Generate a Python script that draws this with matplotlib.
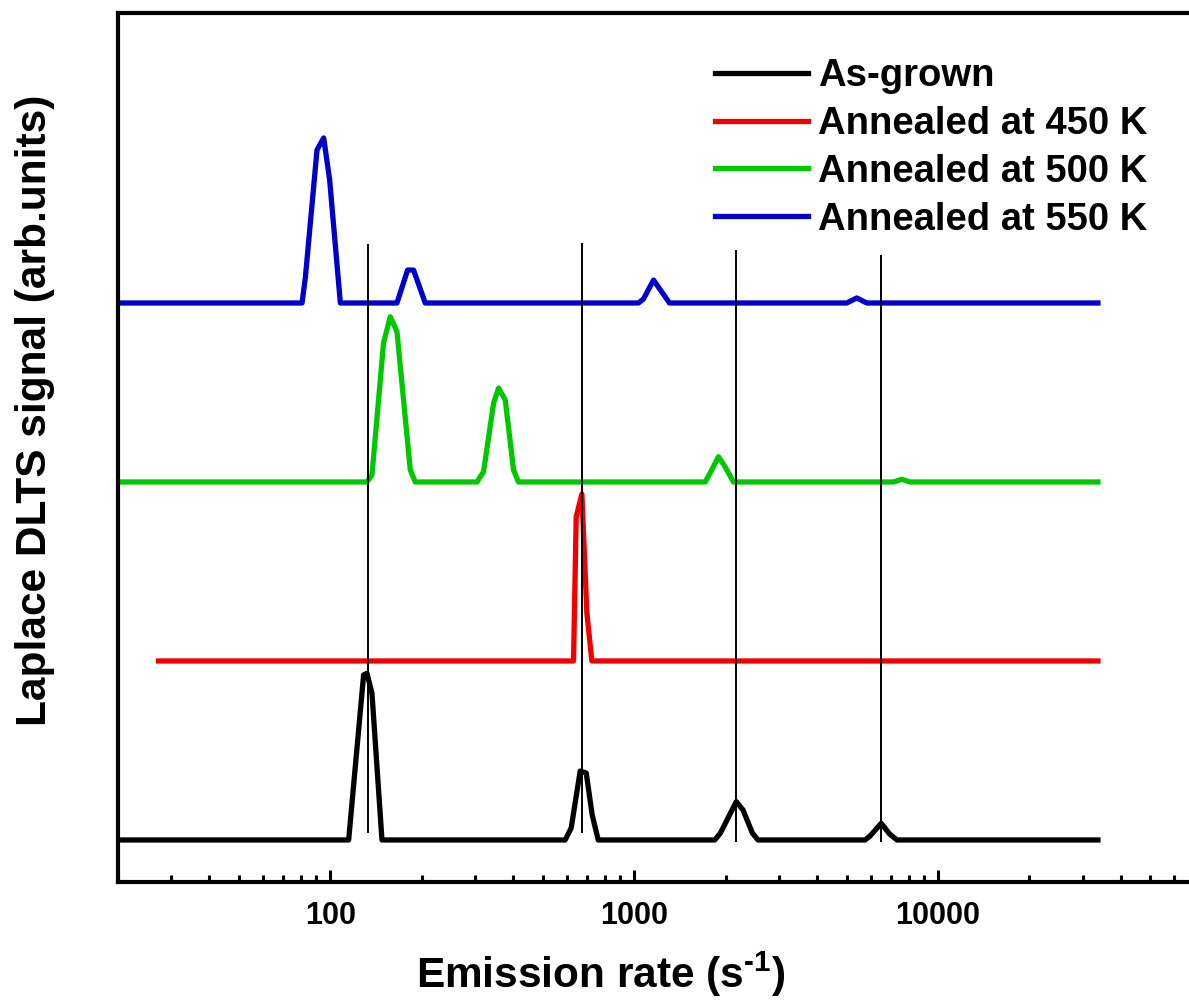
import numpy as np
from matplotlib import pyplot as plt
from matplotlib.ticker import LogLocator, NullFormatter, FixedFormatter, FixedLocator

plt.rcParams["font.family"] = ["Liberation Sans", "DejaVu Sans"]
plt.rcParams["font.weight"] = "bold"
plt.rcParams["mathtext.fontset"] = "custom"
plt.rcParams["mathtext.rm"] = "Liberation Sans:bold"
plt.rcParams["mathtext.bf"] = "Liberation Sans:bold"

# Laplace DLTS spectra (emission rate in s^-1, signal relative to each baseline)
asgrown_rate = [20, 114.9, 128.7, 132.0, 137.1, 147.9,
                592.9, 620.6, 664.3, 695.4, 727.5, 761.6,
                1843, 1923, 2168, 2281, 2449, 2556,
                5754, 5975, 6503, 6924, 7330, 33600]
asgrown_sig = [0, 0, 0.922, 0.931, 0.820, 0,
               0, 0.067, 0.385, 0.374, 0.140, 0,
               0, 0.039, 0.214, 0.168, 0.039, 0,
               0, 0.022, 0.093, 0.034, 0, 0]

ann450_rate = [27.2, 631.6, 644.5, 672.9, 698.9, 725.6, 33600]
ann450_sig = [0, 0, 0.806, 0.933, 0.266, 0, 0]

ann500_rate = [20, 132.0, 137.1, 149.7, 157.5, 165.7, 183.3, 190.4,
               303.9, 319.4, 344.6, 357.9, 376.5, 400.9, 416.0,
               1713, 1778, 1894, 1992, 2122,
               7129, 7598, 8091, 33600]
ann500_sig = [0, 0, 0.039, 0.777, 0.923, 0.840, 0.067, 0,
              0, 0.058, 0.440, 0.525, 0.458, 0.067, 0,
              0, 0.050, 0.141, 0.085, 0,
              0, 0.015, 0, 0]

ann550_rate = [20, 80.7, 82.8, 90.4, 95.1, 99.5, 107.9,
               165.7, 179.6, 187.9, 205.3,
               1033, 1073, 1158, 1307,
               5008, 5403, 5830, 33600]
ann550_sig = [0, 0, 0.145, 0.855, 0.922, 0.687, 0,
              0, 0.184, 0.184, 0,
              0, 0.022, 0.128, 0,
              0, 0.028, 0, 0]

labels = ["As-grown", "Annealed at 450 K", "Annealed at 500 K", "Annealed at 550 K"]
offsets = [0, 1, 2, 3]
colors = ["#000000", "#f00000", "#00c800", "#0000c8"]

# marker lines at the as-grown peak positions
vline_rate = [133.0, 672.9, 2165, 6494]
vline_top = [3.33, 3.335, 3.296, 3.268]
vline_bottom = [0.039, 0.039, -0.011, -0.011]

fig = plt.figure(figsize=(11.89, 10.02), dpi=100)
ax = fig.add_axes([0.0992, 0.1198, 0.9008, 0.8672])

series = [(asgrown_rate, asgrown_sig), (ann450_rate, ann450_sig),
          (ann500_rate, ann500_sig), (ann550_rate, ann550_sig)]
for (r, s), off, c, lab in zip(series, offsets, colors, labels):
    ax.plot(r, np.array(s) + off, color=c, lw=3.8, label=lab, zorder=2)

ax.vlines(vline_rate, vline_bottom, vline_top, color="black", lw=1.4, zorder=3)

ax.set_xscale("log")
ax.set_xlim(20, 67000)
ax.set_ylim(-0.2346, 4.62)

ax.xaxis.set_major_locator(FixedLocator([100, 1000, 10000]))
ax.xaxis.set_major_formatter(FixedFormatter(["100", "1000", "10000"]))
ax.xaxis.set_minor_locator(LogLocator(base=10, subs=np.arange(2, 10)))
ax.xaxis.set_minor_formatter(NullFormatter())
ax.tick_params(axis="x", which="major", direction="in", length=8.5, width=2.2,
               labelsize=22, pad=14)
ax.tick_params(axis="x", which="minor", direction="in", length=5, width=2.2)
ax.tick_params(axis="y", left=False, labelleft=False)
for lbl in ax.get_xticklabels():
    lbl.set_fontweight("bold")

for side in ["left", "bottom", "top"]:
    ax.spines[side].set_linewidth(3)
ax.spines["right"].set_visible(False)

ax.set_xlabel("Emission rate (s$^{\\text{-1}}$)", fontsize=30.5, fontweight="bold")
ax.xaxis.set_label_coords(0.451, -0.078)
ax.set_ylabel("Laplace DLTS signal (arb.units)", fontsize=30.5, fontweight="bold")
ax.yaxis.set_label_coords(-0.059, 0.543)

ax.legend(loc="upper left", bbox_to_anchor=(0.601, 0.942), bbox_transform=fig.transFigure,
          frameon=False, fontsize=27.5, handlelength=2.45, handletextpad=0.25,
          labelspacing=0.31, borderpad=0, borderaxespad=0)

plt.savefig("out.png", dpi=100)
